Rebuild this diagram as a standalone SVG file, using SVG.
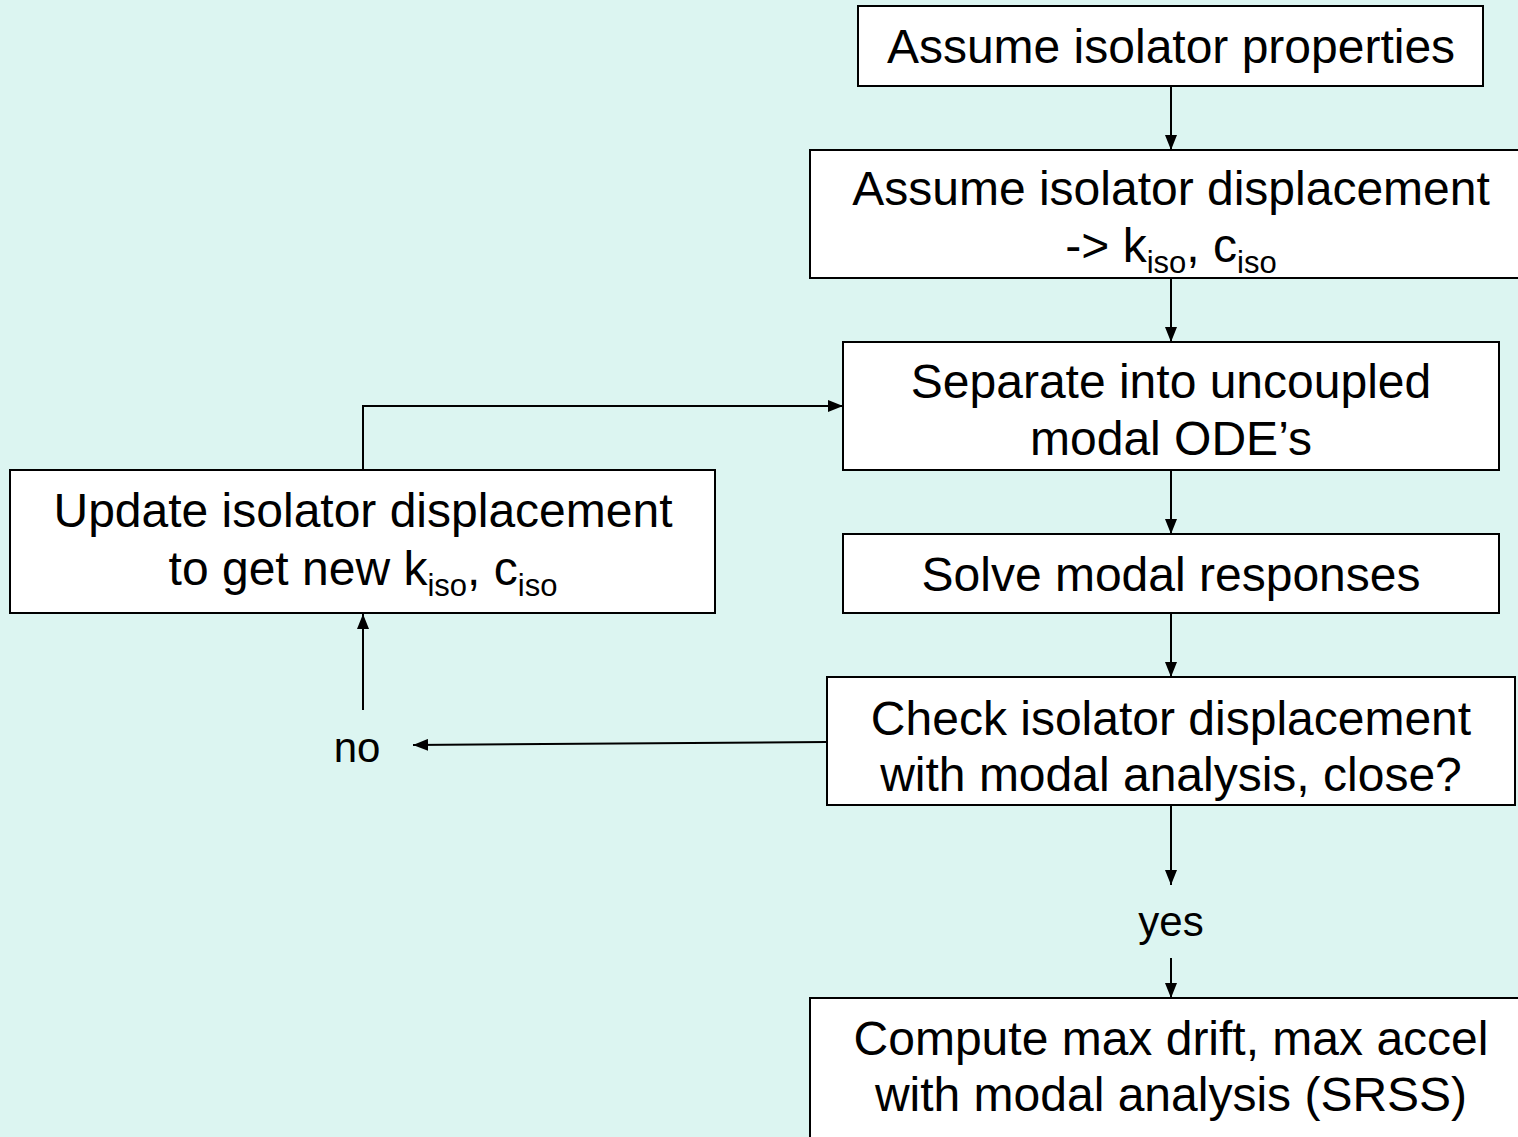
<svg xmlns="http://www.w3.org/2000/svg" width="1518" height="1137" viewBox="0 0 1518 1137">
<style>
.box{fill:#fff;stroke:#000;stroke-width:2}
.t{font-family:"Liberation Sans",Arial,sans-serif;font-size:48px;fill:#000;text-anchor:middle}
.s{font-size:31px}
.lbl{font-family:"Liberation Sans",Arial,sans-serif;font-size:42px;fill:#000;text-anchor:middle}
.c{fill:none;stroke:#000;stroke-width:2}
</style>
<defs>
<marker id="ah" viewBox="0 0 15 12" refX="15" refY="6" markerWidth="15" markerHeight="12" markerUnits="userSpaceOnUse" orient="auto">
<path d="M0,0 L15,6 L0,12 Z" fill="#000"/>
</marker>
</defs>
<rect width="1518" height="1137" fill="#DCF5F1"/>
<g id="connectors">
<line class="c" x1="1171" y1="86" x2="1171" y2="150" marker-end="url(#ah)"/>
<line class="c" x1="1171" y1="278" x2="1171" y2="342" marker-end="url(#ah)"/>
<line class="c" x1="1171" y1="470" x2="1171" y2="534" marker-end="url(#ah)"/>
<line class="c" x1="1171" y1="613" x2="1171" y2="677" marker-end="url(#ah)"/>
<line class="c" x1="1171" y1="805" x2="1171" y2="885" marker-end="url(#ah)"/>
<line class="c" x1="1171" y1="958" x2="1171" y2="998" marker-end="url(#ah)"/>
<polyline class="c" points="363,470 363,406 843,406" marker-end="url(#ah)"/>
<line class="c" x1="827" y1="742" x2="413" y2="745" marker-end="url(#ah)"/>
<line class="c" x1="363" y1="710" x2="363" y2="614" marker-end="url(#ah)"/>
<text class="lbl" x="357" y="762">no</text>
<text class="lbl" x="1171" y="936">yes</text>
</g>
<g id="n1">
<rect class="box" x="858" y="6" width="625" height="80"/>
<text class="t" x="1171" y="63">Assume isolator properties</text>
</g>
<g id="n2">
<rect class="box" x="810" y="150" width="712" height="128"/>
<text class="t" x="1171" y="205">Assume isolator displacement</text>
<text class="t" x="1171" y="262">-&gt; k<tspan class="s" dy="11">iso</tspan><tspan dy="-11">, c</tspan><tspan class="s" dy="11">iso</tspan></text>
</g>
<g id="n3">
<rect class="box" x="843" y="342" width="656" height="128"/>
<text class="t" x="1171" y="398">Separate into uncoupled</text>
<text class="t" x="1171" y="455">modal ODE’s</text>
</g>
<g id="n4">
<rect class="box" x="843" y="534" width="656" height="79"/>
<text class="t" x="1171" y="591">Solve modal responses</text>
</g>
<g id="n5">
<rect class="box" x="827" y="677" width="688" height="128"/>
<text class="t" x="1171" y="735">Check isolator displacement</text>
<text class="t" x="1171" y="791">with modal analysis, close?</text>
</g>
<g id="n6">
<rect class="box" x="810" y="998" width="712" height="160"/>
<text class="t" x="1171" y="1055">Compute max drift, max accel</text>
<text class="t" x="1171" y="1111">with modal analysis (SRSS)</text>
</g>
<g id="n7">
<rect class="box" x="10" y="470" width="705" height="143"/>
<text class="t" x="363" y="527">Update isolator displacement</text>
<text class="t" x="363" y="585">to get new k<tspan class="s" dy="11">iso</tspan><tspan dy="-11">, c</tspan><tspan class="s" dy="11">iso</tspan></text>
</g>
</svg>
